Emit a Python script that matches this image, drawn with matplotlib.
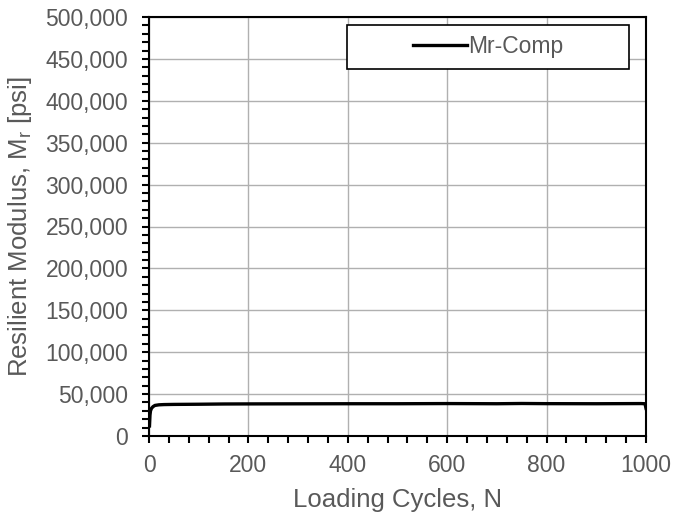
import matplotlib
matplotlib.use("Agg")
import matplotlib.pyplot as plt
from matplotlib.ticker import MultipleLocator, FuncFormatter
from matplotlib.patches import Rectangle

plt.rcParams['font.family'] = ['Liberation Sans', 'DejaVu Sans']

cycles = [1, 2, 3, 5, 8, 12, 20, 30, 50, 100, 150, 200, 300, 400, 500, 600, 700, 750, 800, 900, 990, 998, 1000]
mr_comp = [12000, 25000, 30000, 33000, 35000, 36500, 37200, 37500, 37700, 37900, 38200, 38300, 38400, 38500, 38500, 38700, 38500, 38800, 38600, 38500, 38700, 38500, 33000]
series_label = "Mr-Comp"

W, H = 673, 517
fig = plt.figure(figsize=(W/100, H/100), dpi=100)
ax = fig.add_axes([149/W, 1 - 436/H, (646-149)/W, (436-17)/H])

line, = ax.plot(cycles, mr_comp, color='black', lw=2.4, label=series_label)

ax.set_xlim(0, 1000)
ax.set_ylim(0, 500000)
ax.xaxis.set_major_locator(MultipleLocator(200))
ax.xaxis.set_minor_locator(MultipleLocator(40))
ax.yaxis.set_major_locator(MultipleLocator(50000))
ax.yaxis.set_minor_locator(MultipleLocator(10000))
ax.yaxis.set_major_formatter(FuncFormatter(lambda v, p: f"{int(v):,}"))

ax.grid(True, which='major', color='#b0b0b0', lw=1)
ax.set_axisbelow(True)
for s in ax.spines.values():
    s.set_color('black')
    s.set_linewidth(1.5)

ax.tick_params(which='major', direction='out', length=5, width=1.5, colors='black',
               labelcolor='#595959', labelsize=16.5)
ax.tick_params(axis='y', which='major', pad=10)
ax.tick_params(axis='x', which='major', pad=8)
ax.tick_params(which='minor', direction='out', length=5, width=1.5, colors='black')

ax.set_xlabel("Loading Cycles, N", fontsize=18.5, color='#595959', labelpad=8)
ax.set_ylabel("Resilient Modulus, M$_\\mathregular{r}$ [psi]", fontsize=18.5, color='#595959', labelpad=8)

# legend box (Excel-style wide frame)
box = Rectangle((347/W, 1 - 69/H), (629-347)/W, (69-25)/H, transform=fig.transFigure,
                facecolor='white', edgecolor='black', lw=1.2, zorder=4)
fig.add_artist(box)
leg = fig.legend([line], [series_label], loc='center left', bbox_to_anchor=(413/W, 1 - 47/H),
                 fontsize=16.5, frameon=False, handlelength=2.35, handletextpad=0.05,
                 borderpad=0, borderaxespad=0)
leg.set_zorder(5)
for t in leg.get_texts():
    t.set_color('#595959')

fig.savefig("out.png", dpi=100)
